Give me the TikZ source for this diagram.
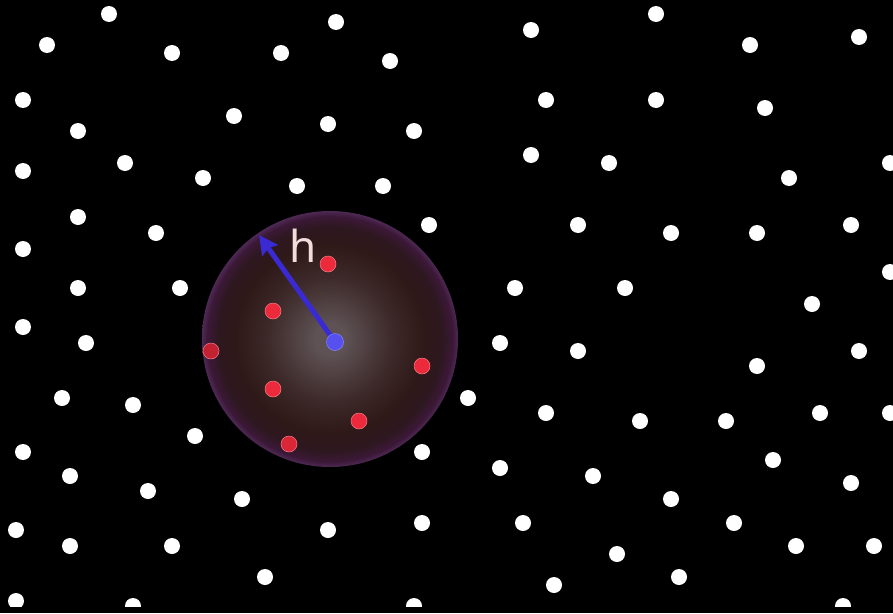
\documentclass[tikz,border=0pt]{standalone}
\usepackage{fontspec}
\newfontfamily\labelfont{Noto Sans}
\usepackage{xcolor}
\usepackage{tikz}
\usetikzlibrary{arrows.meta, positioning}

\definecolor{sphcore}{HTML}{5E5254}
\definecolor{sphmid}{HTML}{3E2A2A}
\definecolor{sphdark}{HTML}{2E1818}
\definecolor{sphedge}{HTML}{2E1820}
\definecolor{sphband}{HTML}{3C1838}
\definecolor{sphrim}{HTML}{4C2852}
\definecolor{nbred}{HTML}{EC2A3C}
\definecolor{arrblue}{HTML}{3A2AD4}
\definecolor{ctrblue}{HTML}{5650EE}
\definecolor{hpink}{HTML}{F2DCDC}

% circle edge sits at 25bp of the shading
\pgfdeclareradialshading{kernelball}{\pgfpoint{0bp}{0bp}}{%
  color(0bp)=(sphcore); color(3bp)=(sphcore); color(12bp)=(sphmid); color(18.5bp)=(sphdark);
  color(22bp)=(sphedge); color(24bp)=(sphband); color(24.9bp)=(sphrim); color(25bp)=(sphrim); color(50bp)=(sphrim)}

\tikzset{
  particle/.style={fill=white},
  neighbour/.style={fill=nbred, draw=nbred!60!white, line width=0.5pt},
}

\begin{document}
\begin{tikzpicture}[x=1pt, y=-1pt]
% background
\fill[black] (0,0) rectangle (893,613);
\useasboundingbox (0,0) rectangle (893,613);
% particles
\begin{scope}
\clip (0,0) rectangle (893,606);
\foreach \px/\py in {109/14, 47/45, 172/53, 281/53, 336/22, 390/61, 531/30, 656/14, 750/45, 859/37,
  23/100, 78/131, 234/116, 328/124, 414/131, 546/100, 656/100, 765/108,
  23/171, 125/163, 203/178, 297/186, 383/186, 531/155, 609/163, 789/178, 890/163,
  78/217, 156/233, 23/249, 429/225, 578/225, 671/233, 757/233, 851/225, 890/272,
  78/288, 180/288, 515/288, 625/288, 812/304,
  23/327, 86/343, 500/343, 578/351, 757/366, 859/351,
  62/398, 133/405, 468/398, 546/413, 640/421, 726/421, 820/413, 890/413,
  195/436, 23/452, 422/452, 500/468, 593/476, 773/460, 70/476, 851/483,
  148/491, 242/499, 671/499, 16/530, 70/546, 172/546, 328/530, 422/523, 523/523, 734/523,
  617/554, 796/546, 874/546,
  265/577, 554/585, 679/577, 16/601, 133/606, 414/606, 843/606}
  \fill[particle] (\px,\py) circle (8);
\end{scope}
% smoothing kernel
\shade[shading=kernelball] (330,339) circle (128);
% neighbours inside h
\foreach \px/\py in {328/264, 273/311, 273/389, 422/366, 359/421}
  \filldraw[neighbour] (\px,\py) circle (8);
\filldraw[neighbour, fill=nbred!82!black] (211,351) circle (8);
\filldraw[neighbour, fill=nbred!92!black] (289,444) circle (8);
% smoothing length
\coordinate (ctr) at (335,342);
\coordinate (htip) at (259,235);
\draw[arrblue, line width=5pt, -{Stealth[length=19pt, width=19pt, inset=3pt]}] (ctr) -- (htip);
\filldraw[fill=ctrblue, draw=ctrblue!70!white, line width=0.5pt] (ctr) circle (8.5);
\node[text=hpink, font=\labelfont\fontsize{44}{44}\selectfont, inner sep=0pt] (hlabel) at (303,246) {h};
\end{tikzpicture}
\end{document}
